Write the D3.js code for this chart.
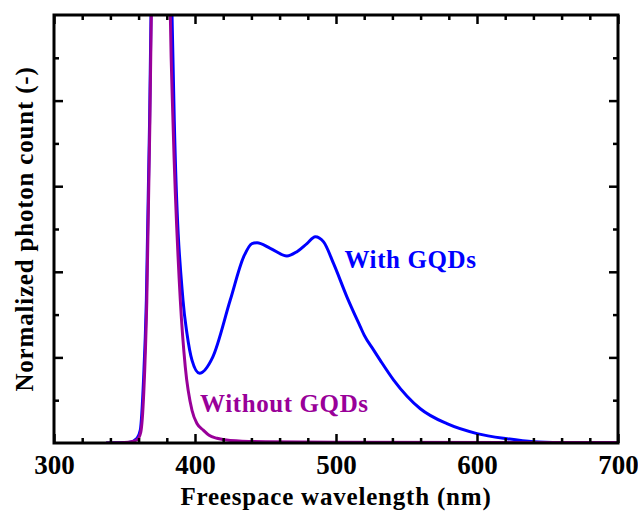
<!DOCTYPE html>
<html>
<head>
<meta charset="utf-8">
<script src="https://cdn.jsdelivr.net/npm/d3@7"></script>
<style>
  body { margin: 0; background: #fff; }
  svg text { font-family: "Liberation Serif", "Times New Roman", serif; font-weight: bold; }
  .line { fill: none; stroke-width: 3; stroke-linejoin: round; }
</style>
</head>
<body>
<div id="chart"></div>
<script>
// wavelength (nm) / normalized count (UV peak runs off the top)
const withWavelength = [337, 350, 354, 358.9, 361.2, 363.5, 365.5, 367.8, 368.8, 372, 376, 380, 383.7, 385.3, 391.5, 394.3,
    397.9, 403.2, 412.5, 425, 434.5, 440.4, 444, 453.4, 465.2, 472.3, 479.4, 485.3, 491.2, 498.3, 507.8,
    517.2, 520, 526.7, 531.4, 540.9, 559.8, 578.7, 600, 621.3, 640, 660, 700];
const withCount = [0, 0.001, 0.002, 0.011, 0.03, 0.147, 0.333, 0.754, 1.0, 2.0, 2.5, 2.0, 1.0, 0.754, 0.333, 0.256,
    0.193, 0.163, 0.2, 0.334, 0.435, 0.466, 0.468, 0.455, 0.437, 0.447, 0.466, 0.482, 0.47, 0.419, 0.341,
    0.272, 0.252, 0.217, 0.193, 0.147, 0.08, 0.045, 0.022, 0.01, 0.003, 0.001, 0];

const withoutWavelength = [337, 350, 355, 359, 361.5, 363.7, 365.8, 368, 369, 372, 376, 379.5, 382.5, 384.4, 389.6,
    393.1, 397.9, 401.5, 405.9, 410, 415.6, 425, 450, 500, 700];
const withoutCount = [0, 0.001, 0.003, 0.008, 0.025, 0.12, 0.33, 0.75, 1.0, 2.0, 2.5, 2.0, 1.0, 0.75, 0.333,
    0.178, 0.076, 0.045, 0.03, 0.018, 0.011, 0.006, 0.003, 0.002, 0.001];

const xTicks = [300, 400, 500, 600, 700];

const width = 638, height = 512;
const margin = {top: 15, right: 20, bottom: 69, left: 54};
const innerW = width - margin.left - margin.right;
const innerH = height - margin.top - margin.bottom;

const svg = d3.select('#chart').append('svg')
    .attr('width', width)
    .attr('height', height);

const chart = svg.append('g')
    .attr('transform', `translate(${margin.left}, ${margin.top})`);

const xScale = d3.scaleLinear().domain([300, 700]).range([0, innerW]);
const yScale = d3.scaleLinear().domain([0, 1]).range([innerH, 0]);

chart.append('clipPath').attr('id', 'plot-clip')
    .append('rect').attr('width', innerW).attr('height', innerH + 2).attr('y', -1);

const line = d3.line()
    .x(d => xScale(d[0]))
    .y(d => yScale(d[1]))
    .curve(d3.curveMonotoneX);

const plot = chart.append('g').attr('clip-path', 'url(#plot-clip)');

plot.append('path')
    .attr('class', 'line')
    .attr('stroke', '#0000ff')
    .attr('d', line(d3.zip(withWavelength, withCount)));

plot.append('path')
    .attr('class', 'line')
    .attr('stroke', '#990099')
    .attr('d', line(d3.zip(withoutWavelength, withoutCount)));

// inward ticks on all four sides, majors long and minors short
const xMinor = d3.range(320, 700, 20).filter(v => v % 100 !== 0);
const yMajor = d3.range(0.2, 1, 0.2);
const yMinor = d3.range(0.1, 1, 0.2);

const bottomAxis = d3.axisBottom(xScale).tickValues(xTicks).tickSize(-9).tickPadding(14);
const bottomMinor = d3.axisBottom(xScale).tickValues(xMinor).tickSize(-5).tickFormat('');
const topAxis = d3.axisTop(xScale).tickValues(xTicks).tickSize(-9).tickFormat('');
const topMinor = d3.axisTop(xScale).tickValues(xMinor).tickSize(-5).tickFormat('');
const leftAxis = d3.axisLeft(yScale).tickValues(yMajor).tickSize(-9).tickFormat('');
const leftMinor = d3.axisLeft(yScale).tickValues(yMinor).tickSize(-5).tickFormat('');
const rightAxis = d3.axisRight(yScale).tickValues(yMajor).tickSize(-9).tickFormat('');
const rightMinor = d3.axisRight(yScale).tickValues(yMinor).tickSize(-5).tickFormat('');

const styleAxis = g => {
    g.select('.domain').remove();
    g.selectAll('line').attr('stroke', '#000').attr('stroke-width', 2.5);
};

chart.append('g').attr('transform', `translate(0, ${innerH})`).call(bottomAxis).call(styleAxis)
    .selectAll('text').attr('font-size', 27).attr('fill', '#000').attr('dy', 17)
    .style('font-family', '"Liberation Serif", "Times New Roman", serif').style('font-weight', 'bold');
chart.append('g').attr('transform', `translate(0, ${innerH})`).call(bottomMinor).call(styleAxis);
chart.append('g').call(topAxis).call(styleAxis);
chart.append('g').call(topMinor).call(styleAxis);
chart.append('g').call(leftAxis).call(styleAxis);
chart.append('g').call(leftMinor).call(styleAxis);
chart.append('g').attr('transform', `translate(${innerW}, 0)`).call(rightAxis).call(styleAxis);
chart.append('g').attr('transform', `translate(${innerW}, 0)`).call(rightMinor).call(styleAxis);

// frame
chart.append('rect')
    .attr('width', innerW)
    .attr('height', innerH)
    .attr('fill', 'none')
    .attr('stroke', '#000')
    .attr('stroke-width', 3);

// series labels
chart.append('text')
    .attr('x', xScale(506))
    .attr('y', yScale(0.41))
    .attr('font-size', 25)
    .attr('letter-spacing', 0.6)
    .attr('fill', '#0000ff')
    .text('With GQDs');

chart.append('text')
    .attr('x', xScale(403.6))
    .attr('y', yScale(0.072))
    .attr('font-size', 25)
    .attr('letter-spacing', 0.6)
    .attr('fill', '#990099')
    .text('Without GQDs');

// axis titles
svg.append('text')
    .attr('x', margin.left + innerW / 2)
    .attr('y', 505)
    .attr('text-anchor', 'middle')
    .attr('font-size', 25)
    .attr('letter-spacing', 0.8)
    .text('Freespace wavelength (nm)');

svg.append('text')
    .attr('transform', `translate(33, ${margin.top + innerH / 2}) rotate(-90)`)
    .attr('text-anchor', 'middle')
    .attr('font-size', 25)
    .attr('letter-spacing', 0.8)
    .text('Normalized photon count (-)');
</script>
</body>
</html>
